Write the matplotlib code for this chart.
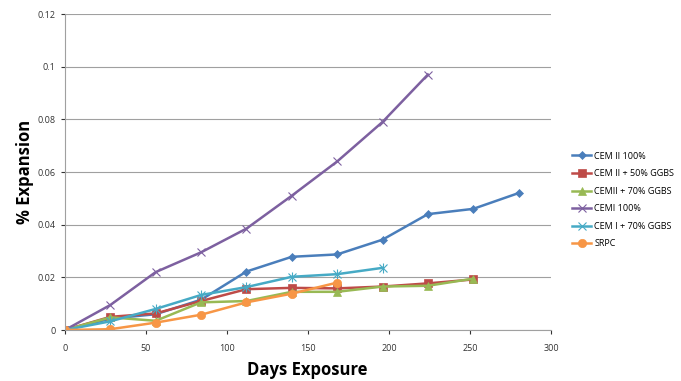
import matplotlib
matplotlib.use("Agg")
import matplotlib.pyplot as plt

# Days of exposure for each reading
days = [0, 28, 56, 84, 112, 140, 168, 196, 224, 252, 280]

cem2_100 = [0, 0.0043, 0.006, 0.0115, 0.0222, 0.0278, 0.0287, 0.0343, 0.044, 0.046, 0.052]
cem2_50ggbs = [0, 0.005, 0.0063, 0.011, 0.0155, 0.016, 0.0158, 0.0165, 0.0177, 0.0192]
cem2_70ggbs = [0, 0.0048, 0.0035, 0.0105, 0.011, 0.0145, 0.0145, 0.0165, 0.0168, 0.0195]
cem1_100 = [0, 0.0095, 0.022, 0.0295, 0.0385, 0.051, 0.064, 0.079, 0.097]
cem1_70ggbs = [0, 0.0033, 0.008, 0.0133, 0.0163, 0.0202, 0.0212, 0.0236]
srpc = [0, 0.0003, 0.0028, 0.0058, 0.0105, 0.0138, 0.018]

labels = ["CEM II 100%", "CEM II + 50% GGBS", "CEMII + 70% GGBS",
          "CEMI 100%", "CEM I + 70% GGBS", "SRPC"]
series = [cem2_100, cem2_50ggbs, cem2_70ggbs, cem1_100, cem1_70ggbs, srpc]
colors = ["#4A7EBB", "#BE4B48", "#98B954", "#7D60A0", "#46AAC5", "#F79646"]
markers = ["D", "s", "^", "x", "x", "o"]
msizes = [4, 6, 6, 6, 6, 6]

plt.rcParams["font.family"] = ["Open Sans", "DejaVu Sans"]

fig = plt.figure(figsize=(6.81, 3.81), dpi=100)
ax = fig.add_axes([65 / 681, 1 - 330 / 381, (551 - 65) / 681, (330 - 14) / 381])

for vals, lab, col, mk, ms in zip(series, labels, colors, markers, msizes):
    ax.plot(days[:len(vals)], vals, color=col, marker=mk, markersize=ms,
            linewidth=1.8, label=lab, markeredgewidth=0.8 if mk == "x" else 0.5,
            markeredgecolor=col)
    if lab == "CEM I + 70% GGBS":
        # asterisk marker: x plus a vertical stroke
        ax.plot(days[:len(vals)], vals, color=col, marker="|", markersize=ms + 1,
                linestyle="none", markeredgewidth=0.8)

ax.set_xlim(0, 300)
ax.set_ylim(0, 0.12)
ax.set_xticks([0, 50, 100, 150, 200, 250, 300])
ax.set_yticks([0, 0.02, 0.04, 0.06, 0.08, 0.1, 0.12])
ax.set_yticklabels(["0", "0.02", "0.04", "0.06", "0.08", "0.1", "0.12"])
ax.tick_params(labelsize=6.5, colors="#333333", length=3, width=0.8)
ax.tick_params(axis="x", pad=7)
ax.tick_params(axis="y", pad=4)
ax.grid(axis="y", color="#A0A0A0", linewidth=0.8)
ax.set_axisbelow(True)
for side in ["top", "right"]:
    ax.spines[side].set_visible(False)
for side in ["left", "bottom"]:
    ax.spines[side].set_color("#A0A0A0")

fig.text(307 / 681, 1 - 370 / 381, "Days Exposure", fontsize=12, fontweight="bold",
         ha="center", va="center")
fig.text(25 / 681, 1 - 172 / 381, "% Expansion", fontsize=12, fontweight="bold",
         ha="center", va="center", rotation=90)

ax.legend(loc="upper left", bbox_to_anchor=(568 / 681, 1 - 148 / 381),
          bbox_transform=fig.transFigure, frameon=False,
          fontsize=6.5, handlelength=2.2, labelspacing=0.95, handletextpad=0.3,
          borderaxespad=0)

fig.savefig("out.png", dpi=100)
